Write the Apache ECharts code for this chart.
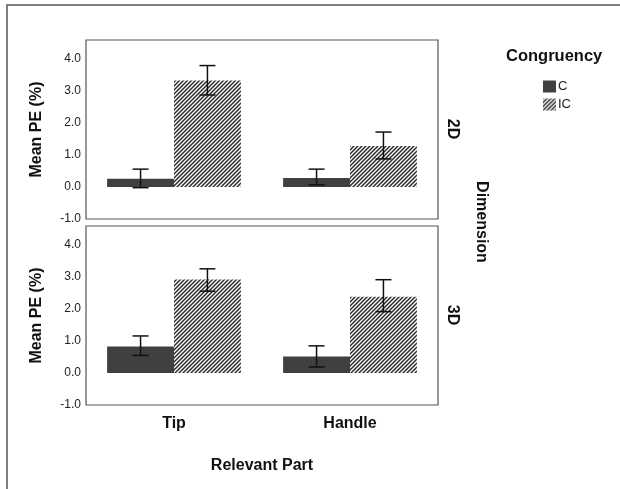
<!DOCTYPE html>
<html>
<head>
<meta charset="utf-8">
<script src="https://cdn.jsdelivr.net/npm/echarts@6/dist/echarts.min.js"></script>
<style>
  html, body { margin: 0; padding: 0; background: #fff; }
  #main { width: 620px; height: 489px; }
</style>
</head>
<body>
<div id="main"></div>
<script>
// 数据
const parts = ["Tip", "Handle"];
const mean2dC = [0.26, 0.28];
const mean2dIC = [3.33, 1.28];
const err2dC = [[-0.02, 0.56], [0.07, 0.56]];
const err2dIC = [[2.88, 3.80], [0.88, 1.72]];
const mean3dC = [0.83, 0.52];
const mean3dIC = [2.93, 2.39];
const err3dC = [[0.55, 1.16], [0.19, 0.85]];
const err3dIC = [[2.56, 3.26], [1.92, 2.92]];
const yTicks = [-1, 0, 1, 2, 3, 4];

const font = "'Liberation Sans', Arial, sans-serif";
const barPct = 0.38;

// 斜线填充
function hatch() {
    const c = document.createElement("canvas");
    c.width = 4;
    c.height = 4;
    const ctx = c.getContext("2d");
    ctx.strokeStyle = "#2a2a2a";
    ctx.lineWidth = 1.5;
    ctx.beginPath();
    ctx.moveTo(0, 4); ctx.lineTo(4, 0);
    ctx.moveTo(-1, 1); ctx.lineTo(1, -1);
    ctx.moveTo(3, 5); ctx.lineTo(5, 3);
    ctx.stroke();
    return { image: c, repeat: "repeat" };
}
const hatchFill = hatch();

function errData(cErr, icErr) {
    const out = [];
    cErr.forEach((e, i) => out.push([i, e[0], e[1], -1]));
    icErr.forEach((e, i) => out.push([i, e[0], e[1], 1]));
    return out;
}

function renderErr(params, api) {
    const band = api.size([1, 0])[0];
    const x = api.coord([api.value(0), 0])[0] + api.value(3) * band * barPct / 2;
    const yLo = api.coord([0, api.value(1)])[1];
    const yHi = api.coord([0, api.value(2)])[1];
    const st = { stroke: "#111", lineWidth: 1.5 };
    return {
        type: "group",
        children: [
            { type: "line", shape: { x1: x, y1: yLo, x2: x, y2: yHi }, style: st },
            { type: "line", shape: { x1: x - 8, y1: yLo, x2: x + 8, y2: yLo }, style: st },
            { type: "line", shape: { x1: x - 8, y1: yHi, x2: x + 8, y2: yHi }, style: st },
        ],
    };
}

function yAxisOpt(idx) {
    return {
        type: "value",
        gridIndex: idx,
        min: -1,
        max: 4.6,
        interval: 1,
        name: "Mean PE (%)",
        nameLocation: "middle",
        nameGap: 41,
        nameTextStyle: { fontFamily: font, fontSize: 16, fontWeight: "bold", color: "#111" },
        axisLine: { show: false },
        axisTick: { show: false },
        splitLine: { show: false },
        axisLabel: {
            margin: 5,
            fontFamily: font,
            fontSize: 12,
            color: "#222",
            formatter: (v) => (yTicks.indexOf(v) >= 0 ? v.toFixed(1) : ""),
        },
    };
}

function xAxisOpt(idx, showLabel) {
    const o = {
        type: "category",
        gridIndex: idx,
        data: parts,
        axisLine: { show: false },
        axisTick: { show: false },
        axisLabel: {
            show: showLabel,
            margin: 11,
            fontFamily: font,
            fontSize: 16,
            fontWeight: "bold",
            color: "#111",
        },
    };
    if (showLabel) {
        o.name = "Relevant Part";
        o.nameLocation = "middle";
        o.nameGap = 53;
        o.nameTextStyle = { fontFamily: font, fontSize: 16, fontWeight: "bold", color: "#111" };
    }
    return o;
}

function barSeries(name, data, idx, color) {
    return {
        type: "bar",
        name: name,
        xAxisIndex: idx,
        yAxisIndex: idx,
        data: data,
        barWidth: barPct * 100 + "%",
        barGap: 0,
        itemStyle: { color: color },
        emphasis: { disabled: true },
    };
}

const chart = echarts.init(document.getElementById("main"));
chart.setOption({
    animation: false,
    grid: [
        { left: 86, top: 40, width: 352, height: 179, show: true, borderColor: "#555", borderWidth: 1.2 },
        { left: 86, top: 226, width: 352, height: 179, show: true, borderColor: "#555", borderWidth: 1.2 },
    ],
    xAxis: [xAxisOpt(0, false), xAxisOpt(1, true)],
    yAxis: [yAxisOpt(0), yAxisOpt(1)],
    legend: {
        orient: "vertical",
        left: 538,
        top: 75,
        itemWidth: 13,
        itemHeight: 12,
        itemGap: 5,
        icon: "rect",
        data: ["C", "IC"],
        textStyle: { fontFamily: font, fontSize: 13, color: "#222", padding: [0, 0, 0, -3] },
    },
    graphic: [
        // 外框
        { type: "polyline", shape: { points: [[7, 489], [7, 5], [620, 5]] }, style: { stroke: "#555", lineWidth: 1.5, fill: null } },
        { type: "text", left: 506, top: 48, style: { text: "Congruency", font: "bold 16.5px " + font, fill: "#111" } },
        { type: "text", x: 452, y: 129, rotation: -Math.PI / 2, style: { text: "2D", font: "bold 16px " + font, fill: "#111", align: "center", verticalAlign: "middle" } },
        { type: "text", x: 452, y: 315, rotation: -Math.PI / 2, style: { text: "3D", font: "bold 16px " + font, fill: "#111", align: "center", verticalAlign: "middle" } },
        { type: "text", x: 481, y: 222, rotation: -Math.PI / 2, style: { text: "Dimension", font: "bold 16px " + font, fill: "#111", align: "center", verticalAlign: "middle" } },
    ],
    series: [
        barSeries("C", mean2dC, 0, "#404040"),
        barSeries("IC", mean2dIC, 0, hatchFill),
        barSeries("C", mean3dC, 1, "#404040"),
        barSeries("IC", mean3dIC, 1, hatchFill),
        { type: "custom", xAxisIndex: 0, yAxisIndex: 0, renderItem: renderErr, data: errData(err2dC, err2dIC), z: 5 },
        { type: "custom", xAxisIndex: 1, yAxisIndex: 1, renderItem: renderErr, data: errData(err3dC, err3dIC), z: 5 },
    ],
});
</script>
</body>
</html>
